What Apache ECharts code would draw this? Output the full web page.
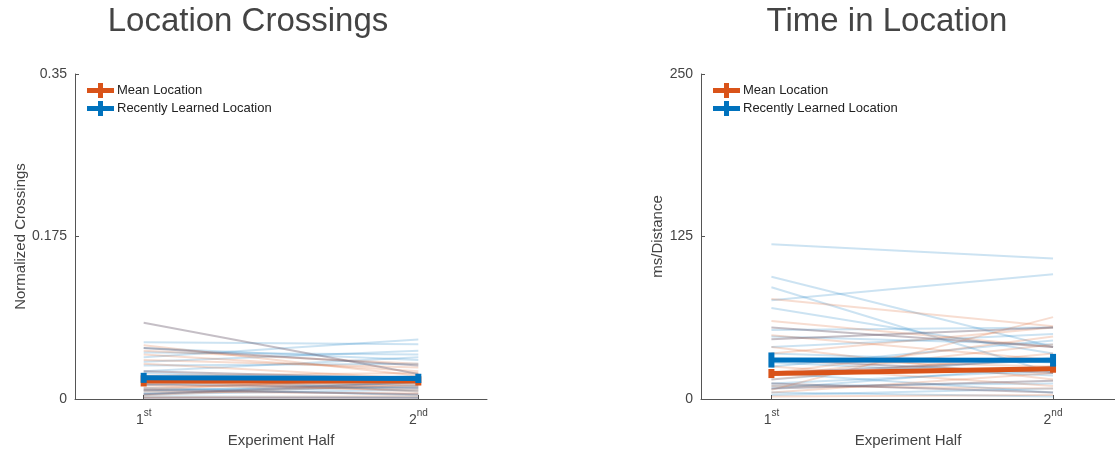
<!DOCTYPE html>
<html><head><meta charset="utf-8">
<script src="https://cdn.jsdelivr.net/npm/echarts@6/dist/echarts.min.js"></script>
<style>html,body{margin:0;padding:0;background:#fff}#c{width:1115px;height:454px}</style>
</head><body><div id="c"></div>
<script>
// ---- data ----
const halves = [1, 2];
const halfNumbers = ['1', '2'];
const halfSuffixes = ['st', 'nd'];
const titles = ['Location Crossings', 'Time in Location'];
const yNames = ['Normalized Crossings', 'ms/Distance'];
const xName = 'Experiment Half';
const seriesNames = ['Mean Location', 'Recently Learned Location'];
const crossTicks = [0, 0.175, 0.35];
const timeTicks = [0, 125, 250];

// Location Crossings – individual subjects (1st half, 2nd half)
const crossBlueFirst   = [0.061,0.045,0.055,0.050,0.040,0.036,0.030,0.028,0.020,0.015,0.010,0.008,0.005,0.025,0.003,0.012,0.018,0.006];
const crossBlueSecond  = [0.059,0.064,0.042,0.048,0.052,0.038,0.045,0.020,0.015,0.025,0.012,0.018,0.010,0.008,0.002,0.004,0.022,0.014];
const crossOrangeFirst = [0.058,0.052,0.048,0.042,0.038,0.025,0.018,0.012,0.008,0.004,0.015,0.002,0.020,0.010];
const crossOrangeSecond= [0.025,0.038,0.030,0.034,0.022,0.028,0.014,0.020,0.006,0.016,0.010,0.003,0.008,0.024];
const crossGreyFirst   = [0.082,0.055,0.030,0.010,0.005,0.001,0.016];
const crossGreySecond  = [0.027,0.036,0.022,0.005,0.018,0.001,0.012];
// Location Crossings – group means and error
const crossMeanOrange = [0.0195, 0.0195];
const crossErrOrange  = [0.006, 0.005];
const crossMeanBlue   = [0.0228, 0.0222];
const crossErrBlue    = [0.0054, 0.0050];

// Time in Location – individual subjects
const timeBlueFirst    = [119,94,86,76,70,53,48,35,28,20,15,10,5,25,12,3,40,8];
const timeBlueSecond   = [108,40,20,96,35,55,42,28,18,5,32,12,2,45,22,8,50,25];
const timeOrangeFirst  = [77,60,49,7,40,30,20,15,10,5,2,25,18,35];
const timeOrangeSecond = [56,40,30,63,15,25,48,35,8,20,3,10,42,55];
const timeGreyFirst    = [46,30,12,20,8,55];
const timeGreySecond   = [55,20,5,30,14,40];
// Time in Location – group means and error
const timeMeanOrange = [19.6, 23.2];
const timeErrOrange  = [3.5, 3.0];
const timeMeanBlue   = [30.0, 29.8];
const timeErrBlue    = [5.8, 4.9];

// ---- styles ----
const FONT = 'Liberation Sans, Arial, Helvetica, sans-serif';
const ORANGE = '#D95319';
const BLUE = '#0072BD';
const TXT = '#444444';
const AX = '#555555';

const series = [];
function subjectLines(first, second, color, opacity, ax) {
  first.forEach((a, i) => {
    series.push({
      type: 'line', silent: true, symbol: 'none', animation: false,
      xAxisIndex: ax, yAxisIndex: ax, z: 2,
      data: [[halves[0], a], [halves[1], second[i]]],
      lineStyle: { color: color, width: 2, opacity: opacity }
    });
  });
}
function meanLine(name, mean, err, color, ax, z) {
  series.push({
    type: 'line', name: name, symbol: 'none', animation: false,
    xAxisIndex: ax, yAxisIndex: ax, z: z,
    data: halves.map((h, i) => [h, mean[i]]),
    lineStyle: { color: color, width: 5 }, itemStyle: { color: color }
  });
  series.push({
    type: 'custom', animation: false, silent: true,
    xAxisIndex: ax, yAxisIndex: ax, z: z,
    data: halves.map((h, i) => [h, mean[i], err[i]]),
    renderItem: function (params, api) {
      const x = api.value(0), v = api.value(1), e = api.value(2);
      const top = api.coord([x, v + e]);
      const bot = api.coord([x, v - e]);
      return { type: 'rect', shape: { x: top[0] - 3, y: top[1], width: 6, height: bot[1] - top[1] },
               style: { fill: color } };
    }
  });
}

subjectLines(crossBlueFirst, crossBlueSecond, BLUE, 0.2, 0);
subjectLines(crossOrangeFirst, crossOrangeSecond, ORANGE, 0.2, 0);
subjectLines(crossGreyFirst, crossGreySecond, '#6f5f70', 0.4, 0);
meanLine(seriesNames[0], crossMeanOrange, crossErrOrange, ORANGE, 0, 10);
meanLine(seriesNames[1], crossMeanBlue, crossErrBlue, BLUE, 0, 11);

subjectLines(timeBlueFirst, timeBlueSecond, BLUE, 0.2, 1);
subjectLines(timeOrangeFirst, timeOrangeSecond, ORANGE, 0.2, 1);
subjectLines(timeGreyFirst, timeGreySecond, '#6f5f70', 0.4, 1);
meanLine(seriesNames[0], timeMeanOrange, timeErrOrange, ORANGE, 1, 10);
meanLine(seriesNames[1], timeMeanBlue, timeErrBlue, BLUE, 1, 11);

function xAxis(grid, max) {
  return {
    type: 'value', gridIndex: grid, min: 0.75, max: max,
    name: xName, nameLocation: 'middle', nameGap: 34,
    nameTextStyle: { fontSize: 15, color: TXT, fontFamily: FONT },
    axisLine: { show: true, lineStyle: { color: AX, width: 1 } },
    axisTick: { show: true, inside: true, length: 4, customValues: halves, lineStyle: { color: AX } },
    splitLine: { show: false },
    axisLabel: {
      customValues: halves, margin: 9, color: TXT, fontFamily: FONT,
      formatter: function (v) { const i = halves.indexOf(v); return '{a|' + halfNumbers[i] + '}{b|' + halfSuffixes[i] + '}'; },
      rich: {
        a: { fontSize: 14, color: TXT, fontFamily: FONT, lineHeight: 19, verticalAlign: 'bottom' },
        b: { fontSize: 10, color: TXT, fontFamily: FONT, verticalAlign: 'top' }
      }
    }
  };
}
function yAxis(grid, ticks, name, gap) {
  return {
    type: 'value', gridIndex: grid, min: ticks[0], max: ticks[ticks.length - 1],
    name: name, nameLocation: 'middle', nameGap: gap,
    nameTextStyle: { fontSize: 15, color: TXT, fontFamily: FONT },
    axisLine: { show: true, lineStyle: { color: AX, width: 1 } },
    axisTick: { show: true, inside: true, length: 4, customValues: ticks, lineStyle: { color: AX } },
    axisLabel: { customValues: ticks, margin: 8, fontSize: 14, color: TXT, fontFamily: FONT },
    splitLine: { show: false }
  };
}
function legend(left) {
  return {
    data: seriesNames, orient: 'vertical', left: left, top: 83, padding: 0,
    itemGap: 3, itemWidth: 27, itemHeight: 15,
    icon: 'path://M0,5H27V10H0Z M11,0H16V15H11Z',
    textStyle: { fontSize: 13, color: '#222', fontFamily: FONT, padding: [0, 0, 0, -2] },
    selectedMode: false
  };
}

const chart = echarts.init(document.getElementById('c'), null, { renderer: 'canvas' });
chart.setOption({
  backgroundColor: '#ffffff',
  animation: false,
  textStyle: { fontFamily: FONT },
  grid: [
    { left: 75, top: 74, width: 412, height: 325, outerBoundsMode: 'none' },
    { left: 701, top: 74, width: 414, height: 325, outerBoundsMode: 'none' }
  ],
  xAxis: [xAxis(0, 2.25), xAxis(1, 2.22)],
  yAxis: [yAxis(0, crossTicks, yNames[0], 47), yAxis(1, timeTicks, yNames[1], 35)],
  legend: [legend(87), legend(713)],
  graphic: [
    { type: 'text', x: 248, y: 22, style: { text: titles[0], fontSize: 33, fill: TXT, fontFamily: FONT, align: 'center', verticalAlign: 'middle' } },
    { type: 'text', x: 887, y: 22, style: { text: titles[1], fontSize: 33, fill: TXT, fontFamily: FONT, align: 'center', verticalAlign: 'middle' } }
  ],
  series: series
});
</script>
</body></html>
